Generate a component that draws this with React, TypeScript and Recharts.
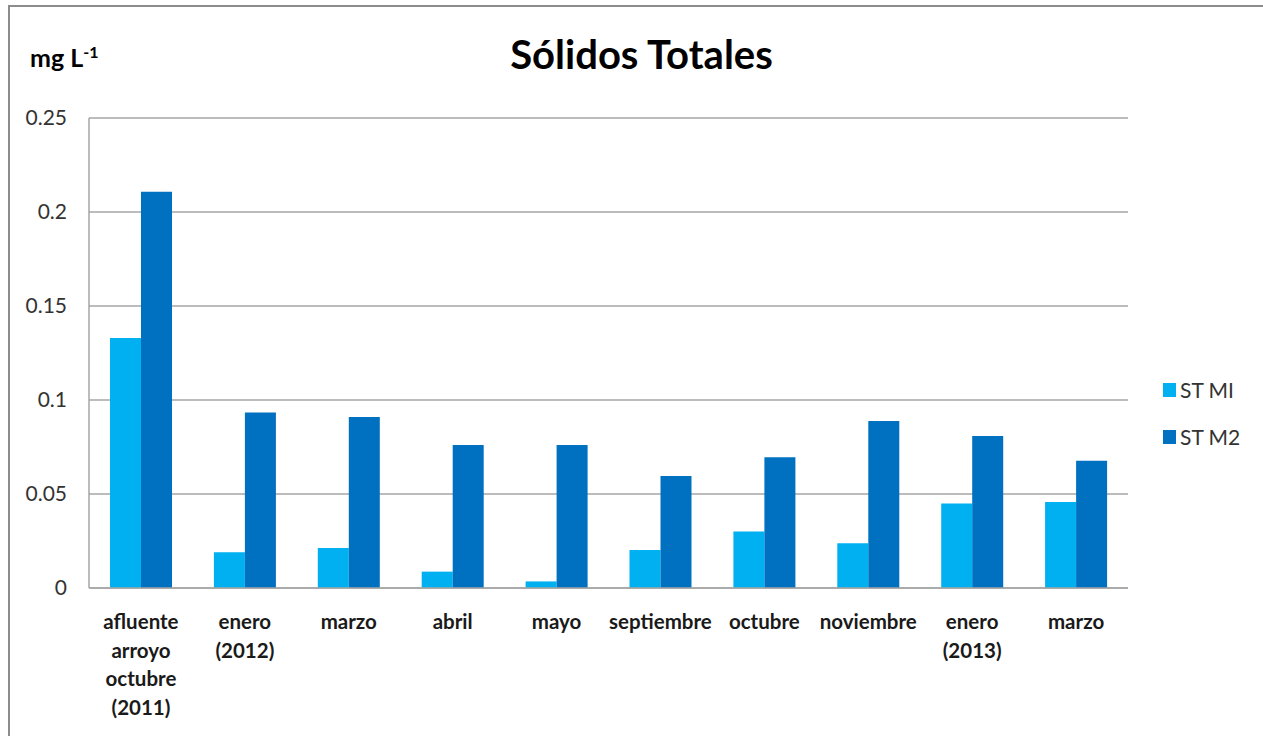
import React from "react";
import {
  BarChart,
  Bar,
  XAxis,
  YAxis,
  CartesianGrid,
  Legend,
} from "recharts";

// categories (line breaks as in the original axis labels)
const categories = [
  "afluente\narroyo\noctubre\n(2011)",
  "enero\n(2012)",
  "marzo",
  "abril",
  "mayo",
  "septiembre",
  "octubre",
  "noviembre",
  "enero\n(2013)",
  "marzo",
];

const stMI = [0.133, 0.019, 0.0213, 0.0087, 0.0035, 0.0202, 0.03, 0.0238, 0.045, 0.0457];
const stM2 = [0.2108, 0.0934, 0.091, 0.076, 0.076, 0.0596, 0.0695, 0.0888, 0.0809, 0.0677];

const yTicks = [0, 0.05, 0.1, 0.15, 0.2, 0.25];
const seriesOrder = ["mi", "m2"];

const data = categories.map((cat, i) => ({
  cat,
  mi: stMI[i],
  m2: stM2[i],
}));

const FONT = "Lato, 'Open Sans', sans-serif";
const GRID = "#a6a6a6";

const CategoryTick = (props: any) => {
  const { x, y, payload } = props;
  const lines = String(payload.value).split("\n");
  return (
    <g transform={`translate(${x},${y})`}>
      <text
        textAnchor="middle"
        fontFamily={FONT}
        fontWeight={700}
        fontSize={20.5}
        fill="#1a1a1a"
      >
        {lines.map((line, i) => (
          <tspan key={i} x={0} dy={i === 0 ? 39 : 28.5}>
            {line}
          </tspan>
        ))}
      </text>
    </g>
  );
};

const renderLegend = (props: any) => {
  const payload = [...(props.payload || [])].sort(
    (a: any, b: any) => seriesOrder.indexOf(a.dataKey) - seriesOrder.indexOf(b.dataKey)
  );
  return (
    <div>
      {payload.map((entry: any, i: number) => (
        <div
          key={i}
          style={{
            display: "flex",
            alignItems: "center",
            height: 47,
            fontFamily: FONT,
            fontSize: 21,
            color: "#333",
          }}
        >
          <span
            style={{
              width: 13,
              height: 14,
              background: entry.color,
              marginRight: 4,
              display: "inline-block",
            }}
          />
          {entry.value}
        </div>
      ))}
    </div>
  );
};

export default function App() {
  return (
    <div
      style={{
        position: "absolute",
        left: 0,
        top: 0,
        width: 1263,
        height: 736,
        overflow: "hidden",
        background: "#fff",
      }}
    >
      <div
        style={{
          position: "absolute",
          left: 0,
          width: 1263,
          top: 30,
          textAlign: "center",
          fontFamily: FONT,
          fontWeight: 700,
          fontSize: 40,
          color: "#000",
          paddingLeft: 10,
        }}
      >
        Sólidos Totales
      </div>
      <div
        style={{
          position: "absolute",
          left: 30,
          top: 42,
          fontFamily: FONT,
          fontWeight: 700,
          fontSize: 25,
          color: "#000",
        }}
      >
        mg L<sup style={{ fontSize: 16 }}>-1</sup>
      </div>
      <BarChart
        width={1263}
        height={736}
        data={data}
        margin={{ top: 118, right: 135, bottom: 8, left: 29 }}
        barGap={0}
        barCategoryGap={21}
      >
        <CartesianGrid vertical={false} stroke={GRID} strokeWidth={1.5} />
        <XAxis
          dataKey="cat"
          height={140}
          tickLine={false}
          tickSize={0}
          axisLine={{ stroke: GRID, strokeWidth: 1.5 }}
          interval={0}
          tick={<CategoryTick />}
        />
        <YAxis
          width={60}
          domain={[0, 0.25]}
          ticks={yTicks}
          tickLine={false}
          tickSize={0}
          tickMargin={22}
          axisLine={{ stroke: GRID, strokeWidth: 1.5 }}
          tick={{ fontFamily: FONT, fontSize: 21, fill: "#333" }}
        />
        <Legend
          layout="vertical"
          align="center"
          verticalAlign="middle"
          wrapperStyle={{ left: 1163, top: 366, width: 100, height: 94 }}
          content={renderLegend}
        />
        <Bar dataKey="mi" name="ST MI" fill="#00b0f0" isAnimationActive={false} />
        <Bar dataKey="m2" name="ST M2" fill="#0070c0" isAnimationActive={false} />
      </BarChart>
      <div
        style={{
          position: "absolute",
          left: 8,
          top: 5,
          width: 1400,
          height: 900,
          border: "2px solid #8c8c8c",
          zIndex: 2,
          pointerEvents: "none",
        }}
      />
    </div>
  );
}
